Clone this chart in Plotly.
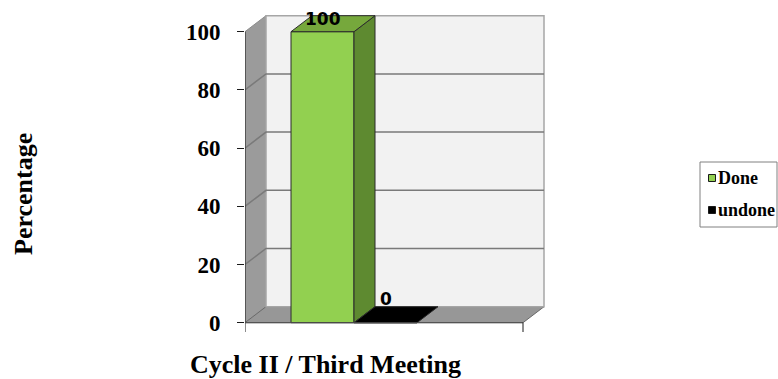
import plotly.graph_objects as go

# ---- data ----
categories = ["Cycle II / Third Meeting"]
series_names = ["Done", "undone"]
series_values = [100, 0]
y_ticks = [0, 20, 40, 60, 80, 100]
y_title = "Percentage"

# ---- styling ----
front_colors = ["#92d050", "#000000"]
top_colors = ["#76a83c", "#000000"]
side_colors = ["#5e8a30", "#000000"]
serif = "Liberation Serif"

W, H = 778, 379
L, T, B = 245, 8, 39            # margins (px)
PLOT_W = 300                     # plot width in px; x data unit == 1 px
R = W - L - PLOT_W
PX_PER_UNIT = 2.91               # vertical px per percentage point
Y0_PX = 322.7                    # pixel row of value 0 on the front plane
plot_h = H - T - B
y_top = (Y0_PX - T) / PX_PER_UNIT
y_bot = y_top - plot_h / PX_PER_UNIT

AXIS_LEN = 278                   # front floor length
DX = 21                          # depth offset in x (px)
DZ = 16 / PX_PER_UNIT            # depth offset in y (value units)
BAR_W = 63
GROUP_LEFT = 46


def paper_x(px):
    return (px - L) / PLOT_W


def paper_y(py):
    return (H - B - py) / plot_h


def poly(pts):
    return "M " + " L ".join(f"{x},{y}" for x, y in pts) + " Z"


fig = go.Figure()
shapes = []

# side wall, floor and back wall
shapes.append(dict(type="path", path=poly([(0, 0), (0, 100), (DX, 100 + DZ), (DX, DZ)]),
                   fillcolor="#9b9b9b", line=dict(color="#8c8c8c", width=1), layer="below"))
shapes.append(dict(type="path", path=poly([(0, 0), (AXIS_LEN, 0), (AXIS_LEN + DX, DZ), (DX, DZ)]),
                   fillcolor="#979797", line=dict(color="#6a6a6a", width=1), layer="below"))
shapes.append(dict(type="rect", x0=DX, x1=AXIS_LEN + DX, y0=DZ, y1=100 + DZ,
                   fillcolor="#f2f2f2", line=dict(color="#a6a6a6", width=1.5), layer="below"))

# gridlines across the side wall and back wall
for v in y_ticks[1:-1]:
    shapes.append(dict(type="path", path=f"M 0,{v} L {DX},{v + DZ} L {AXIS_LEN + DX},{v + DZ}",
                       line=dict(color="#7a7a7a", width=1.5), layer="below"))

# value axis line, floor front edge and category ticks
y_tail = (Y0_PX - 332) / PX_PER_UNIT
shapes.append(dict(type="line", x0=0, x1=0, y0=y_tail, y1=100, line=dict(color="#1a1a1a", width=1)))
shapes.append(dict(type="line", x0=0, x1=AXIS_LEN, y0=0, y1=0, line=dict(color="#4d4d4d", width=1)))
shapes.append(dict(type="line", x0=AXIS_LEN, x1=AXIS_LEN, y0=y_tail, y1=0, line=dict(color="#1a1a1a", width=1)))

# 3D bars: front face as a bar, top and side faces as filled polygons
for i, (name, v) in enumerate(zip(series_names, series_values)):
    xl = GROUP_LEFT + i * BAR_W
    xr = xl + BAR_W
    if v > 0:
        fig.add_trace(go.Scatter(
            x=[xr, xr, xr + DX, xr + DX, xr], y=[0, v, v + DZ, DZ, 0],
            fill="toself", fillcolor=side_colors[i], mode="lines",
            line=dict(color="#2b2b2b", width=1), showlegend=False, hoverinfo="skip"))
    fig.add_trace(go.Scatter(
        x=[xl, xr, xr + DX, xl + DX, xl], y=[v, v, v + DZ, v + DZ, v],
        fill="toself", fillcolor=top_colors[i], mode="lines",
        line=dict(color="#2b2b2b", width=1), showlegend=False, hoverinfo="skip"))
    fig.add_trace(go.Bar(
        x=[(xl + xr) / 2], y=[v], width=BAR_W, name=name,
        marker=dict(color=front_colors[i], line=dict(color="#2b2b2b", width=1)),
        showlegend=False, hovertext=categories))

# value labels
label_lift = [5, 16]
annotations = []
for i, v in enumerate(series_values):
    xl = GROUP_LEFT + i * BAR_W
    annotations.append(dict(
        x=xl + BAR_W / 2, y=v + DZ / 2, xref="x", yref="y", text=f"<b>{v}</b>",
        showarrow=False, yshift=label_lift[i], xanchor="center", yanchor="middle",
        font=dict(family="DejaVu Sans", size=17, color="#000000")))

# axis titles
annotations.append(dict(x=paper_x(23), y=paper_y(194), xref="paper", yref="paper",
                        xanchor="center", yanchor="middle",
                        text=f"<b>{y_title}</b>", textangle=-90, showarrow=False,
                        font=dict(family=serif, size=26, color="#000000")))
annotations.append(dict(x=paper_x(325), y=paper_y(364), xref="paper", yref="paper",
                        xanchor="center", yanchor="middle",
                        text=f"<b>{categories[0]}</b>", showarrow=False,
                        font=dict(family=serif, size=26, color="#000000")))

# legend box
shapes.append(dict(type="rect", xref="paper", yref="paper",
                   x0=paper_x(700), x1=paper_x(777), y0=paper_y(227), y1=paper_y(162),
                   line=dict(color="#808080", width=1), fillcolor="#ffffff"))
legend_rows = [178, 210]
for i, name in enumerate(series_names):
    cy = legend_rows[i]
    shapes.append(dict(type="rect", xref="paper", yref="paper",
                       x0=paper_x(708.5), x1=paper_x(715.5), y0=paper_y(cy + 3.5), y1=paper_y(cy - 3.5),
                       fillcolor=front_colors[i], line=dict(color="#1a1a1a", width=1)))
    annotations.append(dict(x=paper_x(716), y=paper_y(cy), xref="paper", yref="paper",
                            xanchor="left", yanchor="middle", text=f"<b>{name}</b>", showarrow=False,
                            font=dict(family=serif, size=18, color="#000000")))

fig.update_layout(
    width=W, height=H,
    margin=dict(l=L, r=R, t=T, b=B, pad=0),
    paper_bgcolor="#ffffff", plot_bgcolor="#ffffff",
    showlegend=False, barmode="overlay",
    shapes=shapes, annotations=annotations,
    xaxis=dict(range=[0, PLOT_W], visible=False, fixedrange=True),
    yaxis=dict(range=[y_bot, y_top], tickvals=y_ticks, ticks="outside", ticklen=7,
               tickcolor="#1a1a1a", tickwidth=1, showgrid=False, zeroline=False,
               showline=False, ticklabelstandoff=12,
               tickfont=dict(family=serif, size=23, color="#000000", weight="bold"),
               fixedrange=True),
)

fig.write_html("out.html")
